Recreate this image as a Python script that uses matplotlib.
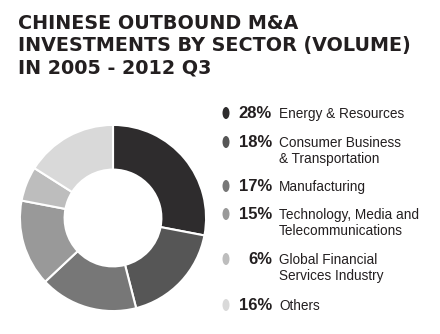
import matplotlib
matplotlib.use("Agg")
import matplotlib.pyplot as plt
from matplotlib.patches import Ellipse

W, H = 440, 334

sectors = ["Energy & Resources", "Consumer Business\n& Transportation", "Manufacturing",
           "Technology, Media and\nTelecommunications", "Global Financial\nServices Industry", "Others"]
shares = [28, 18, 17, 15, 6, 16]
colors = ["#2e2c2d", "#565656", "#777777", "#999999", "#bdbdbd", "#d9d9d9"]
row_y = [113, 142, 186, 214, 259, 305]

fig = plt.figure(figsize=(W / 100, H / 100), dpi=100)
fig.patch.set_facecolor("white")

def fx(x):
    return x / W

def fy(y):
    return 1 - y / H

# title
fig.text(fx(18), fy(14), "CHINESE OUTBOUND M&A\nINVESTMENTS BY SECTOR (VOLUME)\nIN 2005 - 2012 Q3",
         ha="left", va="top", fontsize=13.8, fontweight="bold", color="#231f20",
         family="DejaVu Sans", linespacing=1.2)

# donut
ax = fig.add_axes([fx(19), fy(312), fx(207) - fx(19), (312 - 124) / H])
ax.pie(shares, colors=colors, startangle=90, counterclock=False,
       wedgeprops=dict(width=0.48, edgecolor="white", linewidth=1.5))
ax.set_xlim(-1.01, 1.01)
ax.set_ylim(-1.01, 1.01)
ax.set_aspect("equal")

# legend rows: marker, bold share, label lines on a shared baseline
lax = fig.add_axes([0, 0, 1, 1], facecolor="none")
lax.set_xlim(0, W)
lax.set_ylim(H, 0)
lax.axis("off")
for s, lab, c, y in zip(shares, sectors, colors, row_y):
    base = y + 5
    lax.add_patch(Ellipse((226, y), 7, 12, facecolor=c))
    lax.text(272, base, f"{s}%", ha="right", va="baseline", fontsize=12,
             fontweight="bold", color="#231f20", family="Liberation Sans")
    for i, line in enumerate(lab.split("\n")):
        lax.text(279, base + 16 * i, line, ha="left", va="baseline", fontsize=9.8,
                 color="#231f20", family="Liberation Sans")

fig.savefig("out.png", dpi=100, facecolor="white")
